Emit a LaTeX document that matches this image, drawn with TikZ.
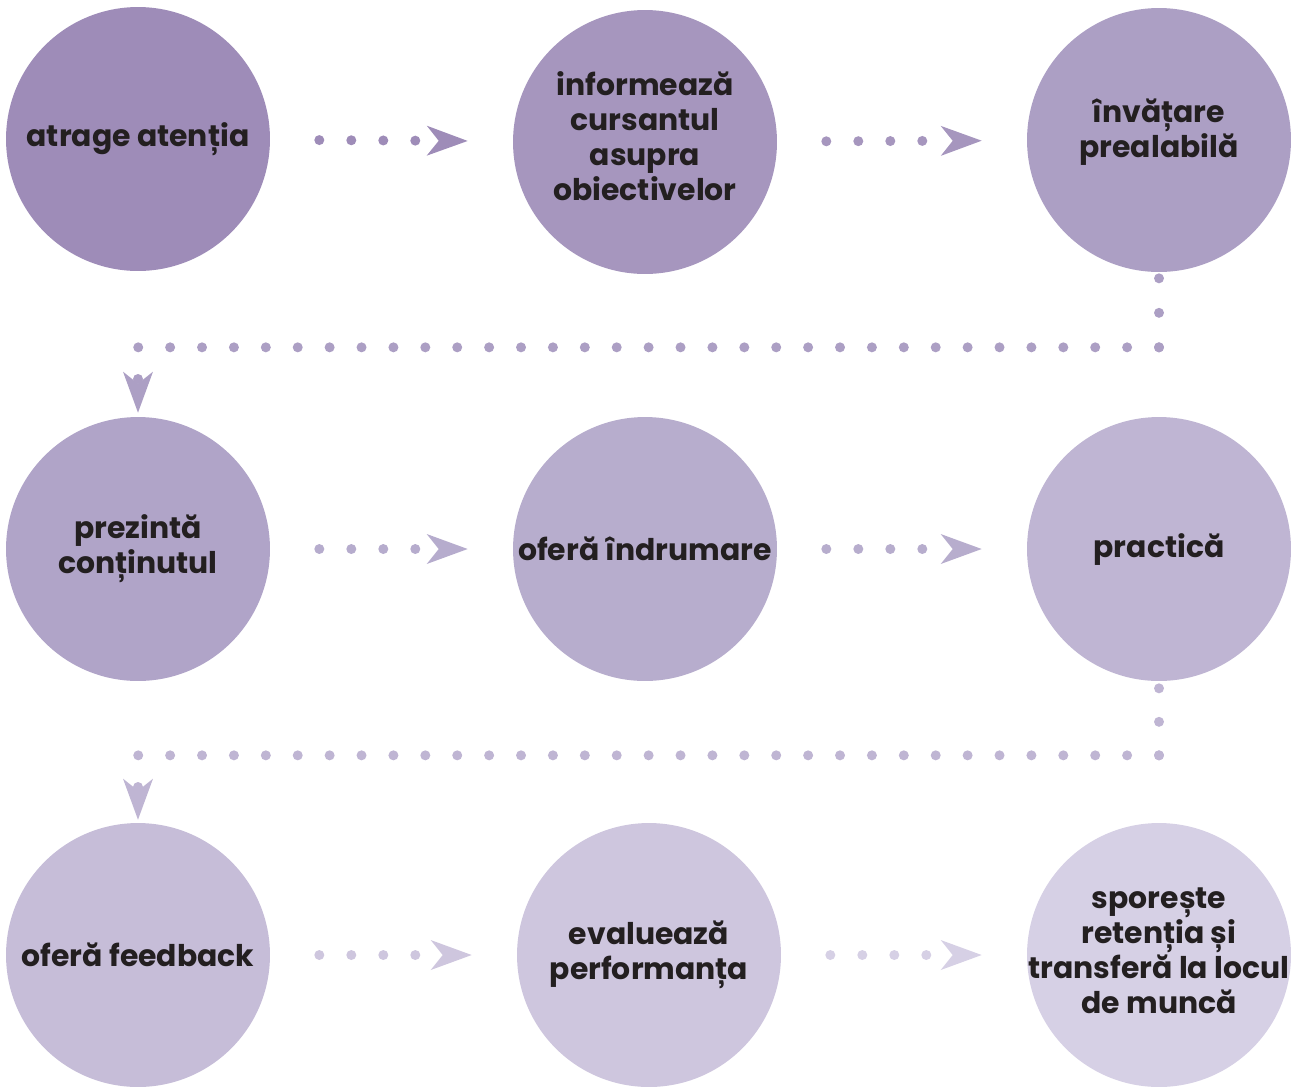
\documentclass[tikz,border=0pt]{standalone}
\usepackage{fontspec}
\setmainfont{Poppins}
\usetikzlibrary{arrows.meta, calc, positioning}

\definecolor{mov1}{HTML}{9E8CB8}
\definecolor{mov2}{HTML}{A696BE}
\definecolor{mov3}{HTML}{AC9FC4}
\definecolor{mov4}{HTML}{B0A4C8}
\definecolor{mov5}{HTML}{B7ADCD}
\definecolor{mov6}{HTML}{BFB5D3}
\definecolor{mov7}{HTML}{C6BDD8}
\definecolor{mov8}{HTML}{CEC6DE}
\definecolor{mov9}{HTML}{D6D0E5}
\definecolor{textmov}{HTML}{231F20}

\begin{document}
\begin{tikzpicture}[x=0.02cm, y=-0.02cm,
  scris/.style={align=center, text=textmov, font=\bfseries\fontsize{17}{19.9}\selectfont},
  pas/.style={circle, minimum size=5.28cm, inner sep=0pt, scris},
  puncte/.style={line width=0.2cm, line cap=round, dash pattern=on 0pt off 0.64cm},
  varf/.style={-{Stealth[length=0.82cm, width=0.6cm, inset=0.24cm, line width=0pt]}},
  sageata/.style={puncte, varf, shorten <=0.98cm, shorten >=0.9cm}]

  \useasboundingbox (0,0) rectangle (1300,1086);

  % primul rand
  \node[pas, fill=mov1] (atentie) at (138,139) {atrage atenția};
  \node[pas, fill=mov2,
    label={[scris, name=obiectivetext, yshift=0.12cm]center:{informează\\cursantul\\asupra\\obiectivelor}}]
    (obiective) at (645,142) {};
  \node[pas, fill=mov3,
    label={[scris, name=prealabiltext, yshift=0.16cm]center:{învățare\\prealabilă}}]
    (prealabil) at (1159,140) {};

  % al doilea rand
  \node[pas, fill=mov4] (continut) at (138,549) {prezintă\\conținutul};
  \node[pas, fill=mov5] (indrumare) at (645,549) {oferă îndrumare};
  \node[pas, fill=mov6] (practica) at (1159,549) {practică};

  % al treilea rand
  \node[pas, fill=mov7] (feedback) at (138,955) {oferă feedback};
  \node[pas, fill=mov8] (evaluare) at (649,955) {evaluează\\performanța};
  \node[pas, fill=mov9,
    label={[scris, name=retentietext, yshift=0.08cm]center:{sporește\\retenția și\\transferă la locul\\de muncă}}]
    (retentie) at (1159,955) {};

  \draw[sageata, mov1] (atentie) -- (obiective);
  \draw[sageata, mov2] (obiective) -- (prealabil);
  \draw[sageata, mov5!90!mov4] (continut) -- (indrumare);
  \draw[sageata, mov5] (indrumare) -- (practica);
  \draw[sageata, mov8] (feedback) -- (evaluare);
  \draw[sageata, mov9] (evaluare) -- (retentie);

  % trecerea intre randuri
  \coordinate (cot1) at ($(prealabil.south)+(0,75)$);
  \coordinate (cot2) at (cot1 -| continut);
  \draw[puncte, mov3, dash pattern=on 0pt off 0.69cm, shorten <=0.12cm] (prealabil.south) -- (cot1);
  \draw[puncte, varf, mov3, dash pattern=on 0pt off 0.6381cm, shorten >=0.08cm]
    (cot1) -- (cot2) -- (continut.north);

  \coordinate (cot3) at ($(practica.south)+(0,74)$);
  \coordinate (cot4) at (cot3 -| feedback);
  \draw[puncte, mov6, dash pattern=on 0pt off 0.67cm, shorten <=0.14cm] (practica.south) -- (cot3);
  \draw[puncte, varf, mov6, dash pattern=on 0pt off 0.6381cm, shorten >=0.06cm]
    (cot3) -- (cot4) -- (feedback.north);
\end{tikzpicture}
\end{document}
